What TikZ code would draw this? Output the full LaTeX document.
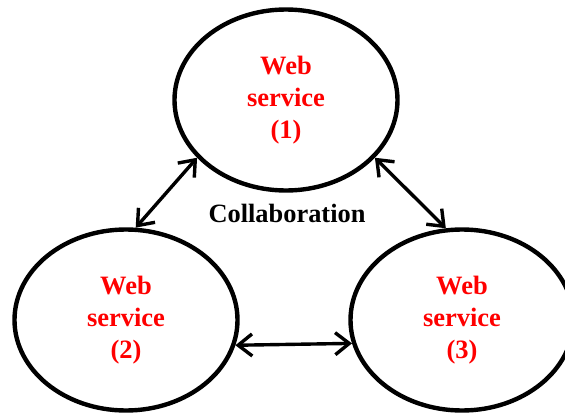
\documentclass[tikz,border=0pt]{standalone}
\usepackage{fontspec}
\setmainfont{Liberation Serif}
\usetikzlibrary{arrows.meta,shapes.geometric}
\begin{document}
\begin{tikzpicture}[x=1pt,y=-1pt,
  svc/.style={ellipse,draw=black,line width=4.4pt,inner sep=0pt,
    minimum width=223pt,minimum height=181pt,align=center,
    text=red,font=\fontsize{26.5}{32}\selectfont\bfseries},
  link/.style={line width=3.4pt,
    {Straight Barb[length=14pt,width=22pt]}-{Straight Barb[length=14pt,width=22pt]}},
  lbl/.style={font=\fontsize{26.4}{30}\selectfont\bfseries,text=black}]
  \useasboundingbox (0,0) rectangle (565,415);
  % the three services
  \node[svc] (ws1) at (286,100) {Web\\service\\(1)};
  \node[svc] (ws2) at (126,320) {Web\\service\\(2)};
  \node[svc] (ws3) at (462,320) {Web\\service\\(3)};
  % label in the middle
  \node[lbl] (collab) at (287,213) {Collaboration};
  % two-way links between the services
  \draw[link] (ws1.213.4) -- (ws2.84.6);
  \draw[link] (ws1.327.5) -- (ws3.100.1);
  \draw[link] (ws2.347.6) -- (ws3.192.4);
\end{tikzpicture}
\end{document}
